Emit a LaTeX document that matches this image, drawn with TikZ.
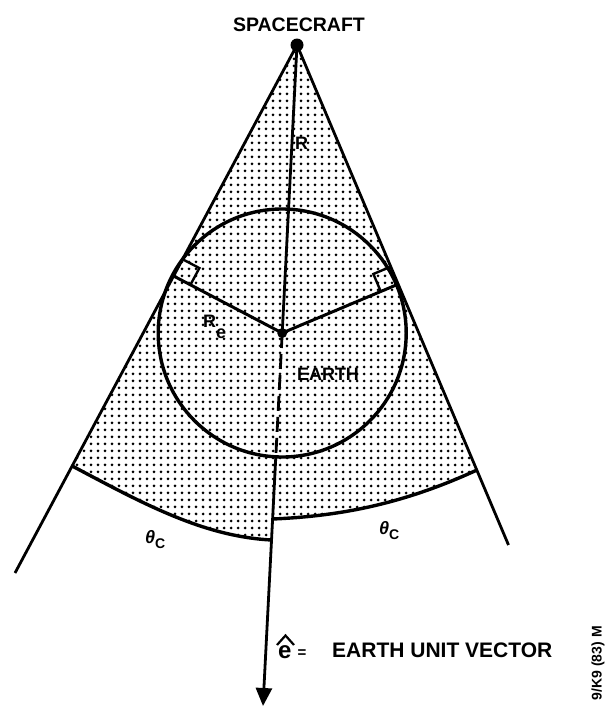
\documentclass[tikz,border=0pt]{standalone}
\usepackage{fontspec}
\setmainfont{Liberation Sans}
\usetikzlibrary{arrows.meta,calc,patterns.meta}

\tikzdeclarepattern{
  name=scandots,
  type=uncolored,
  bottom left={(-3.5pt,-3.5pt)},
  top right={(3.5pt,3.5pt)},
  tile size={(7pt,7pt)},
  code={\fill (0pt,0pt) circle (1.5pt);}
}

\begin{document}
\begin{tikzpicture}[x=1pt,y=-1pt,
  cone/.style={line width=2.8pt},
  heavy/.style={line width=3.4pt},
  axisline/.style={line width=2.8pt},
  radline/.style={line width=3pt},
  marker/.style={line width=2.4pt},
  lbl/.style={font=\fontsize{18}{18}\selectfont\bfseries, inner sep=0pt},
  biglbl/.style={font=\fontsize{19.5}{20}\selectfont\bfseries, inner sep=0pt},
  vlbl/.style={font=\fontsize{21}{21}\selectfont\bfseries, inner sep=0pt},
  anglbl/.style={font=\fontsize{18}{18}\selectfont\bfseries, inner sep=0pt}]
\useasboundingbox (0,0) rectangle (609,710);

% key points
\coordinate (S) at (297,45);
\coordinate (C) at (282.2,333);
\coordinate (E) at (263,706);
\coordinate (L) at (15,573);
\coordinate (R) at (508.5,545);
\coordinate (TL) at (173.6,276);
\coordinate (TR) at (398.3,284.1);
\coordinate (LA) at (72.2,466);
\coordinate (LB) at (271.6,540);
\coordinate (RA) at (272.6,519);
\coordinate (RB) at (477,470);
\coordinate (B) at (275.8,456.8);

% shaded field of view
\fill[pattern=scandots] (S) -- (LA) .. controls (142,503) and (203,536.5) .. (LB)
  -- (RA) .. controls (343,516) and (405,503) .. (RB) -- cycle;

% cone edges
\draw[cone] (S) -- (L);
\draw[cone] (S) -- (R);

% earth
\draw[heavy] (C) circle (124);

% angle arcs
\draw[heavy] (LA) .. controls (142,503) and (203,536.5) .. (LB);
\draw[heavy] (RA) .. controls (343,516) and (405,503) .. (RB);

% radii
\draw[radline] (C) -- (TL);
\draw[radline] (C) -- (TR);

% right-angle markers
\coordinate (ml1) at ($(TL)!19pt!(S)$);
\coordinate (ml2) at ($(TL)!19pt!(C)$);
\coordinate (ml3) at ($(ml1)+(ml2)-(TL)$);
\draw[marker] (ml1) -- (ml3) -- (ml2);
\coordinate (mr1) at ($(TR)!19pt!(S)$);
\coordinate (mr2) at ($(TR)!19pt!(C)$);
\coordinate (mr3) at ($(mr1)+(mr2)-(TR)$);
\draw[marker] (mr1) -- (mr3) -- (mr2);

% axis
\draw[axisline] (S) -- (C);
\draw[axisline, dash pattern=on 15pt off 6pt] (C) -- (B);
\draw[axisline, -{Triangle[length=18pt,width=16pt]}] (B) -- (E);

% dots
\fill (S) circle (6.5);
\fill (C) circle (5);

% labels
\node[biglbl] (sc) at (299,24.5) {SPACECRAFT};
\node[lbl, anchor=west] (rl) at (295,143) {R};
\node[lbl, anchor=base west] (rel) at (203,327) {R\raisebox{-11pt}{e}};
\node[lbl] (earth) at (328,374) {EARTH};
\node[anglbl, anchor=base west] (thl) at (145,543) {\textit{θ}\raisebox{-5pt}{\fontsize{14}{14}\selectfont C}};
\node[anglbl, anchor=base west] (thr) at (379,534) {\textit{θ}\raisebox{-5pt}{\fontsize{14}{14}\selectfont C}};
\node[font=\fontsize{24}{24}\selectfont\bfseries, inner sep=0pt, anchor=base west] (ehat) at (278,658) {e};
\draw[line width=2.2pt, line join=miter] (277,645) -- (285.5,635.5) -- (294,645);
\node[font=\fontsize{15}{15}\selectfont\bfseries, inner sep=0pt] (eq) at (302,654) {=};
\node[vlbl, anchor=base west] (uv) at (332,657) {EARTH UNIT VECTOR};
\node[font=\fontsize{14}{14}\selectfont\bfseries, inner sep=0pt, rotate=90, anchor=east] (code) at (598,626) {9/K9 (83) M};
\end{tikzpicture}
\end{document}
